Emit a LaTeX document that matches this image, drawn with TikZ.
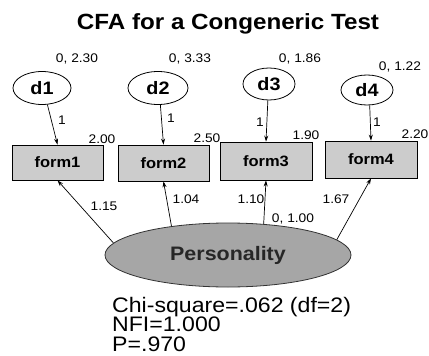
\documentclass[tikz,border=0pt]{standalone}
\usepackage{fontspec}
\setmainfont{Liberation Sans}
\usepackage{graphicx}
\usetikzlibrary{arrows.meta,shapes.geometric}

% slightly widened lettering
\newcommand{\wide}[1]{\scalebox{1.1}[1]{#1}}

\begin{document}
\begin{tikzpicture}[x=1pt,y=-1pt,
  obsbox/.style={draw=black, line width=0.8pt, fill=black!20, inner sep=0pt,
    font=\fontsize{15}{15}\selectfont\bfseries},
  errell/.style={draw=black, line width=0.8pt, ellipse, fill=white, inner sep=0pt,
    font=\fontsize{18}{18}\selectfont\bfseries},
  latent/.style={draw=black!80, line width=0.8pt, ellipse, fill=black!35, inner sep=0pt,
    text=black!85, font=\fontsize{19.5}{19.5}\selectfont\bfseries},
  val/.style={inner sep=0pt, anchor=base, font=\fontsize{12.5}{12.5}\selectfont},
  fit/.style={inner sep=0pt, anchor=base west, font=\fontsize{21}{21}\selectfont},
  link/.style={-{Stealth[length=6pt,width=4pt]}, line width=0.7pt}
]
\useasboundingbox (0,0) rectangle (429,356);

% title
\node[inner sep=0pt, anchor=base, font=\fontsize{22}{22}\selectfont\bfseries]
  (title) at (228,30) {\wide{CFA for a Congeneric Test}};

% error terms
\node[errell, minimum width=58pt, minimum height=33pt] (d1) at (42,88) {\wide{d1}};
\node[errell, minimum width=60pt, minimum height=33pt] (d2) at (158,88) {\wide{d2}};
\node[errell, minimum width=52pt, minimum height=32pt] (d3) at (269,84) {\wide{d3}};
\node[errell, minimum width=52pt, minimum height=30pt] (d4) at (367,90) {\wide{d4}};

% observed measures
\node[obsbox, minimum width=91pt, minimum height=35pt] (f1) at (57.5,162.5) {\wide{form1}};
\node[obsbox, minimum width=91pt, minimum height=36pt] (f2) at (163.5,163) {\wide{form2}};
\node[obsbox, minimum width=92pt, minimum height=38pt] (f3) at (266,161) {\wide{form3}};
\node[obsbox, minimum width=92pt, minimum height=37pt] (f4) at (371,159.5) {\wide{form4}};

% latent factor
\node[latent, minimum width=246pt, minimum height=64pt] (pers) at (228,255) {\wide{Personality}};

% error paths
\draw[link] (d1.-72) -- (f1.north);
\draw[link] (d2.-82) -- (f2.north);
\draw[link] (d3.-94) -- (f3.north);
\draw[link] (d4.-80) -- (f4.north);

% factor loadings
\draw[link] (pers.174) -- (f1.south);
\draw[link] (pers.153) -- (f2.south);
\draw[link] (pers.41) -- (f3.south);
\draw[link] (pers.8) -- (f4.south);

% variances and means of errors
\node[val] (v1) at (77,63) {\wide{0, 2.30}};
\node[val] (v2) at (190,63) {\wide{0, 3.33}};
\node[val] (v3) at (300,63) {\wide{0, 1.86}};
\node[val] (v4) at (400,70) {\wide{0, 1.22}};

% error weights
\node[val] (w1) at (62,124) {\wide{1}};
\node[val] (w2) at (171,122) {\wide{1}};
\node[val] (w3) at (260,126) {\wide{1}};
\node[val] (w4) at (377,126) {\wide{1}};

% intercepts
\node[val] (i1) at (102,143) {\wide{2.00}};
\node[val] (i2) at (207,142) {\wide{2.50}};
\node[val] (i3) at (306,139) {\wide{1.90}};
\node[val] (i4) at (415,138) {\wide{2.20}};

% loading estimates
\node[val] (l1) at (104,210) {\wide{1.15}};
\node[val] (l2) at (186,203) {\wide{1.04}};
\node[val] (l3) at (251,203) {\wide{1.10}};
\node[val] (l4) at (336,203) {\wide{1.67}};
\node[val] (pv) at (293,222) {\wide{0, 1.00}};

% fit statistics
\node[fit] (chi) at (112,312) {\wide{Chi-square=.062 (df=2)}};
\node[fit] (nfi) at (112,331.5) {\wide{NFI=1.000}};
\node[fit] (pval) at (112,351) {\wide{P=.970}};
\end{tikzpicture}
\end{document}
